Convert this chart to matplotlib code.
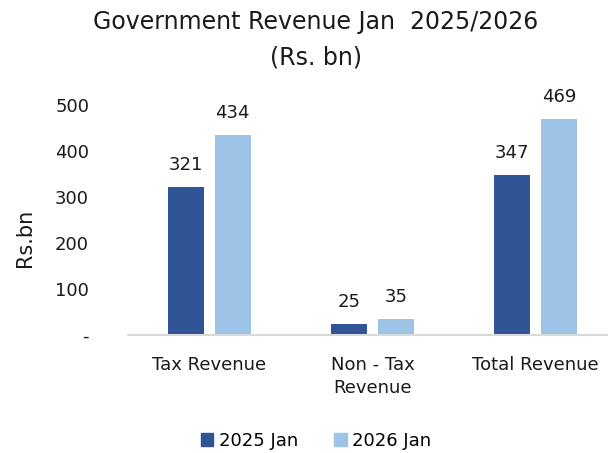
import matplotlib
matplotlib.use('Agg')
import matplotlib.pyplot as plt
from matplotlib.patches import Patch
import numpy as np

plt.rcParams['font.family'] = ['DejaVu Sans']

categories = ['Tax Revenue', 'Non - Tax\nRevenue', 'Total Revenue']
jan_2025 = [321, 25, 347]
jan_2026 = [434, 35, 469]
series_names = ['2025 Jan', '2026 Jan']
yticks = [0, 100, 200, 300, 400, 500]
ytick_labels = ['-', '100', '200', '300', '400', '500']

dark = '#2F5597'
light = '#9DC3E6'
txt = '#1a1a1a'

fig = plt.figure(figsize=(6.08, 4.53), dpi=100)
ax = fig.add_axes([128 / 608, 118 / 453, 480 / 608, 230 / 453])

x = np.arange(len(categories))
w = 0.22
off = 0.143
b1 = ax.bar(x - off, jan_2025, w, color=dark)
b2 = ax.bar(x + off, jan_2026, w, color=light)

for bars, vals in [(b1, jan_2025), (b2, jan_2026)]:
    for r, v in zip(bars, vals):
        ax.text(r.get_x() + r.get_width() / 2, v + 28, str(v), ha='center', va='bottom',
                fontsize=13, color=txt, clip_on=False)

ax.set_xlim(-0.5, 2.445)
ax.set_ylim(0, 500)
ax.set_yticks(yticks)
ax.set_yticklabels(ytick_labels, fontsize=13, color=txt)
ax.set_xticks(x)
ax.set_xticklabels(categories, fontsize=13, color=txt, linespacing=1.35)
ax.tick_params(axis='both', length=0)
ax.tick_params(axis='y', pad=28)
ax.tick_params(axis='x', pad=15)
for s in ['top', 'right', 'left']:
    ax.spines[s].set_visible(False)
ax.spines['bottom'].set_color('#D9D9D9')
ax.spines['bottom'].set_linewidth(1.5)

fig.text(25 / 608, 1 - 238 / 453, 'Rs.bn', rotation=90, ha='center', va='center',
         fontsize=15, color=txt)
fig.text(316 / 608, 1 - 40 / 453, 'Government Revenue Jan  2025/2026\n(Rs. bn)',
         ha='center', va='center', fontsize=17, color=txt, linespacing=1.6)

handles = [Patch(color=dark), Patch(color=light)]
fig.legend(handles, series_names, loc='center', bbox_to_anchor=(316 / 608, 1 - 441 / 453),
           ncol=2, frameon=False, fontsize=13, handlelength=0.7, handleheight=0.7,
           handletextpad=0.3, columnspacing=2.0)

fig.savefig('out.png', dpi=100)
